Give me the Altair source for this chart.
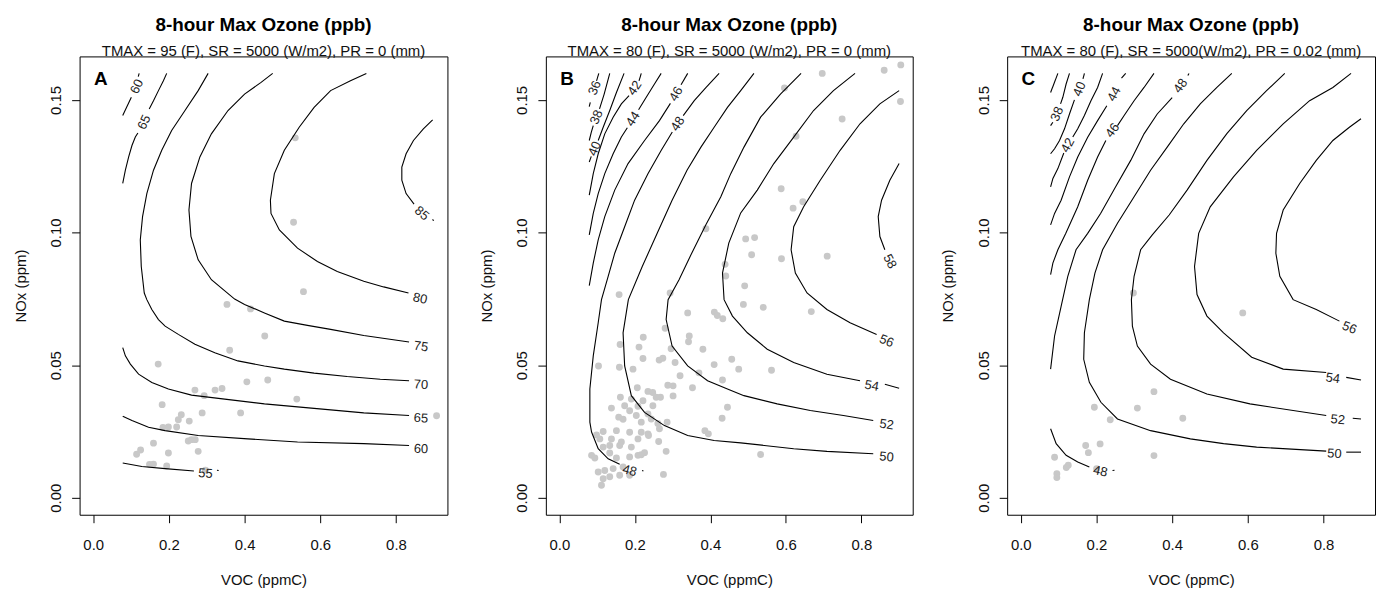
import altair as alt
import pandas as pd

FONT = "Liberation Sans"
X_DOMAIN = [-0.036, 0.936]
Y_DOMAIN = [-0.0064, 0.1664]
x_ticks = [0.0, 0.2, 0.4, 0.6, 0.8]
y_ticks = [0.0, 0.05, 0.10, 0.15]
main_title = "8-hour Max Ozone (ppb)"
subtitles = [
    "TMAX = 95 (F), SR = 5000 (W/m2), PR = 0 (mm)",
    "TMAX = 80 (F), SR = 5000 (W/m2), PR = 0 (mm)",
    "TMAX = 80 (F), SR = 5000(W/m2), PR = 0.02 (mm)",
]
letters = ["A", "B", "C"]
letter_voc = 0.02
letter_nox = 0.158

# ---------------- Panel A: contour pieces (VOC, NOx) ----------------
A_60t = [(0.078, 0.1441), (0.0892, 0.1475), (0.1008, 0.151)]
A_60t2 = [(0.119, 0.1588), (0.1215, 0.16)]
A_65t = [(0.078, 0.1185), (0.085, 0.1235), (0.0937, 0.1285), (0.1024, 0.1328), (0.1113, 0.136), (0.1181, 0.1375)]
A_65t2 = [(0.148, 0.1466), (0.1593, 0.1497), (0.1724, 0.1535), (0.1855, 0.1572), (0.1942, 0.16)]
A_70 = [(0.3037, 0.16), (0.2774, 0.1535), (0.2425, 0.146), (0.2073, 0.1385), (0.1811, 0.131), (0.1593, 0.1235),
        (0.1417, 0.1147), (0.1304, 0.106), (0.1244, 0.0972), (0.127, 0.0872), (0.1349, 0.0772), (0.1417, 0.0747),
        (0.1549, 0.071), (0.1724, 0.0672), (0.19, 0.0647), (0.2249, 0.0616), (0.2688, 0.0579), (0.3213, 0.0547),
        (0.3824, 0.0516), (0.4525, 0.0497), (0.505, 0.0485), (0.5837, 0.047), (0.6711, 0.0457), (0.7585, 0.0447),
        (0.8346, 0.0441)]
A_75 = [(0.4743, 0.16), (0.4436, 0.1566), (0.4, 0.1522), (0.3562, 0.146), (0.3123, 0.1372), (0.2819, 0.1285),
        (0.2598, 0.1185), (0.253, 0.1085), (0.2583, 0.0985), (0.2774, 0.0897), (0.3123, 0.0822), (0.3738, 0.0749),
        (0.4, 0.0729), (0.4525, 0.0697), (0.505, 0.0666), (0.5661, 0.065), (0.6273, 0.0635), (0.715, 0.0612),
        (0.8346, 0.0587)]
A_80 = [(0.7218, 0.16), (0.6798, 0.1572), (0.6273, 0.1535), (0.5837, 0.1472), (0.5443, 0.1397), (0.505, 0.131),
        (0.4787, 0.1222), (0.4682, 0.1122), (0.4698, 0.1072), (0.4919, 0.101), (0.5399, 0.0941), (0.5924, 0.0891),
        (0.6449, 0.0853), (0.715, 0.0816), (0.7675, 0.0795), (0.8331, 0.0772)]
A_85 = [(0.8969, 0.1425), (0.8724, 0.1391), (0.8462, 0.1347), (0.8268, 0.1297), (0.8155, 0.1247), (0.8155, 0.1197),
        (0.8268, 0.1147), (0.8478, 0.1107)]
A_85b = [(0.8965, 0.1049), (0.9, 0.1045)]
A_65 = [(0.078, 0.0566), (0.085, 0.0535), (0.0982, 0.0504), (0.1199, 0.0466), (0.1549, 0.0435), (0.1987, 0.041),
        (0.2598, 0.0387), (0.3475, 0.0372), (0.4525, 0.0354), (0.5837, 0.0337), (0.715, 0.032), (0.8346, 0.031)]
A_60 = [(0.078, 0.0307), (0.1024, 0.0291), (0.1462, 0.0266), (0.19, 0.0253), (0.2774, 0.0235), (0.4087, 0.0222),
        (0.5399, 0.021), (0.715, 0.0204), (0.8346, 0.0197)]
A_55 = [(0.078, 0.0131), (0.1286, 0.0118), (0.19, 0.011), (0.2661, 0.0101)]
A_55b = [(0.327, 0.0104), (0.3315, 0.0103)]
A_labels = [("60", 0.1155, 0.155, 295), ("65", 0.1349, 0.1416, 296), ("70", 0.8661, 0.0426, 3),
            ("75", 0.8661, 0.057, 8), ("80", 0.8635, 0.0751, 12), ("85", 0.868, 0.1072, 40),
            ("65", 0.8661, 0.03, 3), ("60", 0.8661, 0.0184, 2), ("55", 0.2966, 0.0091, 4)]
A_voc = [0.5339, 0.5294, 0.5556, 0.3535, 0.4157, 0.4533, 0.3606, 0.1717, 0.2688, 0.2932, 0.322, 0.3404, 0.406,
         0.4612, 0.538, 0.9073, 0.1822, 0.2328, 0.2249, 0.2879, 0.2538, 0.3895, 0.1843, 0.1987, 0.2205, 0.2512,
         0.2598, 0.2696, 0.1593, 0.1147, 0.1252, 0.1987, 0.2774, 0.1488, 0.1593, 0.1942, 0.2966]
A_nox = [0.1357, 0.1039, 0.0777, 0.0729, 0.0712, 0.061, 0.0556, 0.0504, 0.0406, 0.0385, 0.0406, 0.0412, 0.0437,
         0.0444, 0.0372, 0.0309, 0.0351, 0.0313, 0.0294, 0.032, 0.0289, 0.032, 0.0265, 0.0267, 0.0267, 0.0214,
         0.0219, 0.0219, 0.0206, 0.0164, 0.018, 0.0169, 0.0175, 0.0126, 0.0127, 0.012, 0.0104]

# ---------------- Panel B ----------------
B_36a = [(0.079, 0.1475), (0.0817, 0.1491)]
B_36b = [(0.0983, 0.1572), (0.1043, 0.16)]
B_38a = [(0.079, 0.1347), (0.0843, 0.1378), (0.0896, 0.1403)]
B_38b = [(0.1062, 0.1466), (0.1185, 0.1522), (0.1333, 0.16)]
B_40a = [(0.079, 0.1266), (0.0843, 0.1287)]
B_40b = [(0.1027, 0.1347), (0.1159, 0.1397), (0.1333, 0.146), (0.151, 0.1528), (0.1712, 0.16)]
B_42a = [(0.079, 0.1141), (0.0896, 0.1222), (0.1027, 0.1297), (0.1201, 0.1372), (0.1423, 0.1435), (0.1641, 0.1485),
         (0.1844, 0.1516)]
B_42b = [(0.2108, 0.1572), (0.2168, 0.16)]
B_44a = [(0.079, 0.0991), (0.0896, 0.1072), (0.1027, 0.1147), (0.1201, 0.1222), (0.1423, 0.1297), (0.1641, 0.136),
         (0.1799, 0.1395)]
B_44b = [(0.2097, 0.1463), (0.23, 0.151), (0.2518, 0.156), (0.2695, 0.16)]
B_46a = [(0.079, 0.08), (0.0896, 0.0885), (0.1027, 0.0972), (0.1201, 0.106), (0.1465, 0.116), (0.1818, 0.126),
         (0.2255, 0.1347), (0.265, 0.1422), (0.294, 0.1487)]
B_46b = [(0.3222, 0.1557), (0.3398, 0.16)]
B_48a = [(0.4231, 0.16), (0.388, 0.1546), (0.3572, 0.1497), (0.328, 0.1441)]
B_48b = [(0.299, 0.1379), (0.2698, 0.131), (0.2345, 0.1222), (0.1992, 0.1122), (0.1728, 0.1022), (0.1465, 0.0922),
         (0.1291, 0.0835), (0.1114, 0.0747), (0.1027, 0.066), (0.0896, 0.0535), (0.0806, 0.041), (0.0806, 0.0285),
         (0.0851, 0.0248), (0.1027, 0.0185), (0.1291, 0.0147), (0.1596, 0.0126)]
B_48c = [(0.219, 0.0103), (0.2225, 0.0101)]
B_50 = [(0.5153, 0.16), (0.4803, 0.1535), (0.4452, 0.1472), (0.4099, 0.1397), (0.3749, 0.1322), (0.338, 0.1235),
        (0.2985, 0.1122), (0.259, 0.0997), (0.2194, 0.0872), (0.1826, 0.0747), (0.1686, 0.0622), (0.1728, 0.0497),
        (0.1905, 0.0385), (0.2255, 0.0322), (0.2782, 0.0272), (0.3398, 0.0235), (0.4099, 0.0216), (0.4803, 0.0207),
        (0.6207, 0.0185), (0.7087, 0.0175), (0.8314, 0.0166)]
B_52 = [(0.6402, 0.16), (0.5856, 0.1522), (0.533, 0.1435), (0.4889, 0.1322), (0.4539, 0.1222), (0.4276, 0.1135),
        (0.388, 0.1029), (0.3485, 0.0916), (0.3169, 0.0822), (0.2879, 0.0747), (0.2827, 0.0672), (0.2985, 0.0572),
        (0.3398, 0.0497), (0.3925, 0.0441), (0.4452, 0.041), (0.4889, 0.0385), (0.5769, 0.0354), (0.6647, 0.0329),
        (0.7524, 0.031), (0.8314, 0.0291)]
B_54a = [(0.7832, 0.16), (0.726, 0.1535), (0.6733, 0.146), (0.6207, 0.136), (0.568, 0.126), (0.5242, 0.116),
         (0.4803, 0.1074), (0.4487, 0.096), (0.432, 0.0847), (0.4362, 0.0747), (0.4584, 0.0685), (0.4979, 0.0622),
         (0.5506, 0.056), (0.6207, 0.051), (0.7087, 0.0466), (0.7964, 0.0441)]
B_54b = [(0.8622, 0.0428), (0.9, 0.0413)]
B_56 = [(0.9, 0.1535), (0.849, 0.1485), (0.7964, 0.141), (0.7437, 0.131), (0.691, 0.1197), (0.647, 0.1097),
        (0.6207, 0.1022), (0.6138, 0.0935), (0.6251, 0.0847), (0.656, 0.0772), (0.7087, 0.071), (0.77, 0.066),
        (0.8404, 0.0616)]
B_58 = [(0.9, 0.126), (0.8754, 0.1197), (0.8535, 0.1122), (0.8446, 0.106), (0.849, 0.0985), (0.8622, 0.0935)]
B_labels = [("36", 0.0938, 0.1545, 292), ("38", 0.0983, 0.1435, 292), ("40", 0.0938, 0.1316, 292),
            ("42", 0.1992, 0.1545, 304), ("44", 0.1949, 0.1428, 302), ("46", 0.309, 0.1522, 300),
            ("48", 0.3135, 0.141, 302), ("48", 0.186, 0.0102, 15), ("50", 0.8667, 0.0154, 5),
            ("52", 0.8667, 0.0276, 8), ("54", 0.8272, 0.0422, 10), ("56", 0.8667, 0.0591, 22),
            ("58", 0.8754, 0.0891, 62)]
B_voc = [0.9044, 0.8604, 0.6963, 0.5962, 0.9036, 0.749, 0.627, 0.5875, 0.6449, 0.6191,
         0.388, 0.4934, 0.5171, 0.5092, 0.5883, 0.7094, 0.4389, 0.4407, 0.4908, 0.2932,
         0.1581, 0.4874, 0.54, 0.6673, 0.3398, 0.4104, 0.4183, 0.4328, 0.28, 0.2221,
         0.1607, 0.2108, 0.344, 0.342, 0.3801, 0.2958, 0.2213, 0.2642, 0.274, 0.3064,
         0.4099, 0.4565, 0.475, 0.5619, 0.1035, 0.1589, 0.1949, 0.3196, 0.3696, 0.432,
         0.2063, 0.2871, 0.3011, 0.3525, 0.2345, 0.2471, 0.3011, 0.1615, 0.1905, 0.2213,
         0.2563, 0.2677, 0.4452, 0.1378, 0.1728, 0.2081, 0.2476, 0.2345, 0.186, 0.431,
         0.157, 0.1686, 0.2036, 0.2168, 0.2432, 0.2608, 0.2853, 0.1159, 0.151, 0.186,
         0.2168, 0.2345, 0.265, 0.0983, 0.107, 0.1378, 0.1641, 0.2081, 0.236, 0.1159,
         0.1333, 0.1596, 0.1905, 0.2629, 0.3854, 0.3946, 0.2827, 0.0851, 0.0938, 0.1333,
         0.151, 0.186, 0.2081, 0.2168, 0.2255, 0.1027, 0.1201, 0.1423, 0.1686, 0.1159,
         0.1333, 0.1596, 0.186, 0.1114, 0.2756, 0.533]
B_nox = [0.1632, 0.1612, 0.16, 0.1545, 0.1494, 0.1428, 0.1363, 0.1165, 0.1116, 0.1092,
         0.1014, 0.0976, 0.0981, 0.0916, 0.0901, 0.0911, 0.088, 0.0836, 0.0799, 0.0772,
         0.0766, 0.0729, 0.0718, 0.0702, 0.0697, 0.07, 0.0687, 0.0675, 0.0639, 0.0605,
         0.0578, 0.0568, 0.061, 0.0588, 0.056, 0.0562, 0.0525, 0.0519, 0.0526, 0.051,
         0.0502, 0.0522, 0.0485, 0.0481, 0.0497, 0.0492, 0.0485, 0.046, 0.0471, 0.0444,
         0.0415, 0.0424, 0.0422, 0.0415, 0.0401, 0.0397, 0.0384, 0.0379, 0.0372, 0.0366,
         0.0379, 0.0379, 0.0341, 0.0338, 0.0347, 0.0345, 0.0347, 0.0316, 0.0328, 0.03,
         0.0304, 0.0296, 0.031, 0.0285, 0.0297, 0.028, 0.0285, 0.025, 0.0253, 0.0247,
         0.0247, 0.0241, 0.026, 0.0237, 0.0222, 0.0222, 0.021, 0.0222, 0.0235, 0.0191,
         0.0197, 0.0197, 0.0191, 0.0212, 0.0253, 0.0241, 0.0175, 0.016, 0.015, 0.0169,
         0.015, 0.0154, 0.016, 0.0162, 0.017, 0.0097, 0.0103, 0.011, 0.0116, 0.0072,
         0.0079, 0.0085, 0.0085, 0.0047, 0.0088, 0.0163]

# ---------------- Panel C ----------------
C_36 = [(0.0788, 0.1528), (0.098, 0.16)]
C_38a = [(0.1287, 0.16), (0.1198, 0.156), (0.1111, 0.151), (0.1051, 0.1485)]
C_38b = [(0.0848, 0.1416), (0.0788, 0.1403)]
C_40a = [(0.1681, 0.16), (0.1644, 0.1579)]
C_40b = [(0.1418, 0.15), (0.1287, 0.1447), (0.1156, 0.1391), (0.1024, 0.1347), (0.0893, 0.1316), (0.0788, 0.1297)]
C_42a = [(0.2162, 0.16), (0.203, 0.1547), (0.1854, 0.1497), (0.1681, 0.1441), (0.1505, 0.1391), (0.1374, 0.136)]
C_42b = [(0.1137, 0.13), (0.098, 0.1241), (0.0849, 0.1204), (0.0788, 0.1172)]
C_44a = [(0.2773, 0.16), (0.2661, 0.1582)]
C_44b = [(0.2274, 0.1478), (0.203, 0.1422), (0.1768, 0.1359), (0.1505, 0.1285), (0.1287, 0.121), (0.1066, 0.1122),
         (0.0893, 0.1072), (0.0788, 0.1029)]
C_46a = [(0.3519, 0.16), (0.3257, 0.1547), (0.2994, 0.1497), (0.2731, 0.1441), (0.2555, 0.1403)]
C_46b = [(0.2248, 0.1347), (0.203, 0.1285), (0.1768, 0.1197), (0.1505, 0.1097), (0.119, 0.0997), (0.098, 0.0935),
         (0.0848, 0.0885), (0.0788, 0.0841)]
C_48a = [(0.4415, 0.1592), (0.4445, 0.16)]
C_48b = [(0.4, 0.1509), (0.3606, 0.1447), (0.3257, 0.1372), (0.2905, 0.1272), (0.2503, 0.1172), (0.2109, 0.1072),
         (0.1768, 0.0997), (0.146, 0.0935), (0.1242, 0.0835), (0.1066, 0.0722), (0.0893, 0.061), (0.0788, 0.0485)]
C_48c = [(0.0788, 0.026), (0.0935, 0.0204), (0.1198, 0.016), (0.1505, 0.0135), (0.1812, 0.0116)]
C_48d = [(0.2424, 0.0103), (0.2477, 0.0104)]
C_50a = [(0.5576, 0.16), (0.5182, 0.1547), (0.4743, 0.1485), (0.4307, 0.141), (0.3869, 0.1322), (0.343, 0.1235),
         (0.2994, 0.1135), (0.2555, 0.1035), (0.2162, 0.0935), (0.1959, 0.0847), (0.1812, 0.0747), (0.1681, 0.0622),
         (0.1663, 0.0522), (0.1812, 0.0435), (0.2117, 0.036), (0.2555, 0.0297), (0.343, 0.0253), (0.4481, 0.0222),
         (0.5358, 0.0204), (0.6232, 0.0191), (0.8071, 0.0176)]
C_50b = [(0.86, 0.0172), (0.899, 0.0172)]
C_52a = [(0.6976, 0.16), (0.6495, 0.1535), (0.597, 0.146), (0.5445, 0.1373), (0.4919, 0.1272), (0.4394, 0.116),
         (0.3921, 0.1066), (0.3475, 0.0991), (0.3167, 0.0935), (0.2994, 0.0835), (0.2923, 0.0747), (0.2949, 0.0647),
         (0.3081, 0.0572), (0.343, 0.0504), (0.3955, 0.0447), (0.4919, 0.0391), (0.6056, 0.0354), (0.8071, 0.031)]
C_52b = [(0.8772, 0.03), (0.899, 0.0297)]
C_54a = [(0.8727, 0.16), (0.8247, 0.1547), (0.7632, 0.1497), (0.6934, 0.141), (0.6232, 0.131), (0.562, 0.121),
         (0.5006, 0.1097), (0.4701, 0.0997), (0.4591, 0.0872), (0.4657, 0.0766), (0.4919, 0.0685), (0.5358, 0.0622),
         (0.6101, 0.053), (0.6934, 0.0485), (0.8071, 0.0472)]
C_54b = [(0.86, 0.0454), (0.899, 0.0444)]
C_56 = [(0.899, 0.1429), (0.8683, 0.1397), (0.8247, 0.1347), (0.7808, 0.1272), (0.737, 0.1185), (0.6934, 0.1085),
        (0.6758, 0.0997), (0.674, 0.0922), (0.6845, 0.0835), (0.7196, 0.0747), (0.7808, 0.071), (0.842, 0.0666)]
C_labels = [("38", 0.0961, 0.1447, 293), ("40", 0.155, 0.1541, 292), ("42", 0.1242, 0.1329, 299),
            ("44", 0.2469, 0.1522, 298), ("46", 0.2424, 0.1385, 306), ("48", 0.4218, 0.1553, 306),
            ("48", 0.2101, 0.01, 12), ("50", 0.8289, 0.0166, 3), ("52", 0.8378, 0.0294, 5),
            ("54", 0.8247, 0.045, 8), ("56", 0.8683, 0.0641, 22)]
C_voc = [0.2976, 0.5865, 0.3519, 0.1944, 0.3081, 0.2364, 0.4281, 0.1715, 0.2096, 0.1786, 0.0893, 0.3519,
         0.1255, 0.1203, 0.0953, 0.0953, 0.2004]
C_nox = [0.0772, 0.0697, 0.04, 0.0341, 0.0338, 0.0294, 0.03, 0.0197, 0.0203, 0.017, 0.0153, 0.0159,
         0.0123, 0.0114, 0.0091, 0.0076, 0.011]

A_segments = [A_60t, A_60t2, A_65t, A_65t2, A_70, A_75, A_80, A_85, A_85b, A_65, A_60, A_55, A_55b]
B_segments = [B_36a, B_36b, B_38a, B_38b, B_40a, B_40b, B_42a, B_42b, B_44a, B_44b, B_46a, B_46b,
              B_48a, B_48b, B_48c, B_50, B_52, B_54a, B_54b, B_56, B_58]
C_segments = [C_36, C_38a, C_38b, C_40a, C_40b, C_42a, C_42b, C_44a, C_44b, C_46a, C_46b, C_48a, C_48b,
              C_48c, C_48d, C_50a, C_50b, C_52a, C_52b, C_54a, C_54b, C_56]

PLOT_H = 461


def make_panel(segments, labels, voc, nox, letter, subtitle, width):
    rows = []
    for s, seg in enumerate(segments):
        for i, (vx, vy) in enumerate(seg):
            rows.append({"seg": s, "i": i, "voc": vx, "nox": vy})
    line_df = pd.DataFrame(rows)
    pts_df = pd.DataFrame({"voc": voc, "nox": nox})
    lab_df = pd.DataFrame(labels, columns=["text", "voc", "nox", "angle"])
    let_df = pd.DataFrame({"text": [letter], "voc": [letter_voc], "nox": [letter_nox]})

    x_axis = alt.Axis(values=x_ticks, format=".1f", title="VOC (ppmC)", labelPadding=14.5,
                      labelBaseline="top", titleX=width / 2, titleY=58.5, titleBaseline="top",
                      titleAlign="center")
    y_axis = alt.Axis(values=y_ticks, format=".2f", title="NOx (ppm)", labelAngle=270,
                      labelAlign="center", labelBaseline="bottom", labelPadding=8,
                      titleAngle=270, titleX=-51.5, titleY=PLOT_H / 2, titleAlign="center",
                      titleBaseline="bottom")
    xs = alt.Scale(domain=X_DOMAIN, nice=False, zero=False)
    ys = alt.Scale(domain=Y_DOMAIN, nice=False, zero=False)
    X = alt.X("voc:Q", scale=xs, axis=x_axis)
    Y = alt.Y("nox:Q", scale=ys, axis=y_axis)

    pts = alt.Chart(pts_df).mark_circle(size=48, color="#c8c8c8", opacity=1).encode(x=X, y=Y)
    lines = alt.Chart(line_df).mark_line(color="black", strokeWidth=1.1).encode(
        x=X, y=Y, detail="seg:N", order="i:Q")
    labs = alt.Chart(lab_df).mark_text(font=FONT, fontSize=13, color="#222", align="center",
                                       baseline="middle").encode(
        x=X, y=Y, text="text:N", angle=alt.Angle("angle:Q", scale=None))
    let = alt.Chart(let_df).mark_text(font=FONT, fontSize=19, fontWeight="bold", color="black",
                                      align="center", baseline="middle").encode(x=X, y=Y, text="text:N")
    return alt.layer(pts, lines, labs, let).properties(
        width=width, height=PLOT_H,
        title=alt.TitleParams(text=main_title, subtitle=subtitle, font=FONT, fontSize=19,
                              fontWeight="bold", color="black", subtitleFont=FONT,
                              subtitleFontSize=15, subtitleColor="#111", anchor="middle",
                              frame="group", offset=-3, subtitlePadding=10))


pA = make_panel(A_segments, A_labels, A_voc, A_nox, letters[0], subtitles[0], 370)
pB = make_panel(B_segments, B_labels, B_voc, B_nox, letters[1], subtitles[1], 369)
pC = make_panel(C_segments, C_labels, C_voc, C_nox, letters[2], subtitles[2], 370)

chart = alt.hconcat(pA, alt.hconcat(pB, pC, spacing=27), spacing=31).properties(
    padding={"left": 5, "top": 5, "right": 0, "bottom": 0},
    background="white",
).configure_view(stroke="black", strokeWidth=1).configure_axis(
    domain=False, grid=False, ticks=True, tickColor="black", tickSize=8, tickWidth=1,
    labelFont=FONT, labelFontSize=15, labelColor="#111", titleFont=FONT, titleFontSize=15,
    titleFontWeight="normal", titleColor="#111")

chart.save("out.html", embed_options={"renderer": "svg", "actions": False})
